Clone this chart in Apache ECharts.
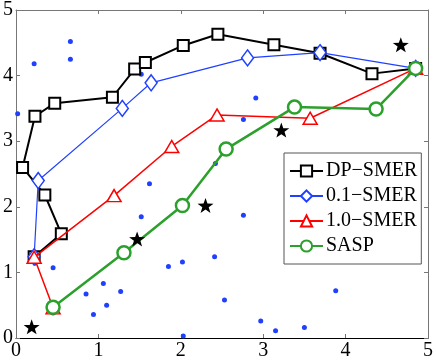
<!DOCTYPE html>
<html>
<head>
<meta charset="utf-8">
<script src="https://cdn.jsdelivr.net/npm/echarts@6/dist/echarts.min.js"></script>
<style>
  html, body { margin: 0; padding: 0; background: #fff; }
  #myChart { width: 436px; height: 362px; }
</style>
</head>
<body>
<div id="myChart"></div>
<script>
// paths from start to goal
var dpX = [0.22, 0.55, 0.35, 0.08, 0.23, 0.47, 1.17, 1.44, 1.57, 2.03, 2.45, 3.13, 3.69, 4.32, 4.85];
var dpY = [1.24, 1.59, 2.18, 2.60, 3.38, 3.58, 3.67, 4.10, 4.20, 4.46, 4.63, 4.47, 4.34, 4.03, 4.11];
var smer01X = [0.22, 0.27, 1.29, 1.64, 2.81, 3.69, 4.85];
var smer01Y = [1.24, 2.40, 3.50, 3.89, 4.27, 4.35, 4.11];
var smer10X = [0.45, 0.22, 1.19, 1.89, 2.44, 3.57, 4.85];
var smer10Y = [0.46, 1.23, 2.17, 2.92, 3.40, 3.35, 4.11];
var saspX = [0.45, 1.31, 2.02, 2.55, 3.38, 4.37, 4.85];
var saspY = [0.47, 1.30, 2.02, 2.88, 3.52, 3.49, 4.11];
// black stars
var starX = [0.19, 1.47, 2.30, 3.22, 4.67];
var starY = [0.17, 1.51, 2.02, 3.17, 4.47];
// blue dots
var dotX = [0.02, 0.22, 0.66, 0.66, 1.52, 2.42, 2.91, 2.76, 0.45, 0.23, 1.62, 1.52, 0.85, 1.06,
            1.27, 1.10, 0.94, 0.45, 1.85, 2.02, 2.41, 2.03, 2.76, 2.53, 2.97, 3.15, 3.50, 3.88];
var dotY = [3.42, 4.18, 4.52, 4.25, 4.02, 2.66, 3.66, 3.33, 1.07, 1.14, 2.35, 1.85, 0.67, 0.83,
            0.71, 0.50, 0.36, 0.38, 1.09, 1.16, 1.24, 0.03, 1.87, 0.58, 0.26, 0.11, 0.16, 0.72];
var legendNames = ['DP\u2212SMER', '0.1\u2212SMER', '1.0\u2212SMER', 'SASP'];

function zip(xs, ys) {
    var out = [];
    for (var i = 0; i < xs.length; i++) {
        out.push([xs[i], ys[i]]);
    }
    return out;
}

var font = '"Liberation Serif", "Times New Roman", serif';
var starPath = 'path://M0,-10 L2.35,-3.24 L9.51,-3.09 L3.8,1.24 L5.88,8.09 L0,4 L-5.88,8.09 L-3.8,1.24 L-9.51,-3.09 L-2.35,-3.24 Z';

function valueAxis(pos, showLabel, lineColor) {
    return {
        type: 'value',
        position: pos,
        min: 0,
        max: 5,
        interval: 1,
        axisLine: { show: true, onZero: false, lineStyle: { color: lineColor, width: 1 } },
        axisTick: { show: true, inside: true, length: 4, lineStyle: { color: '#777' } },
        axisLabel: { show: showLabel, color: '#000', fontFamily: font, fontSize: 20, margin: 3 },
        splitLine: { show: false }
    };
}

var myChart = echarts.init(document.getElementById('myChart'));
var option = {
    animation: false,
    backgroundColor: '#fff',
    grid: { left: 14, right: 5, top: 7, bottom: 24 },
    xAxis: [valueAxis('bottom', true, '#000'), valueAxis('top', false, '#777')],
    yAxis: [valueAxis('left', true, '#777'), valueAxis('right', false, '#777')],
    legend: {
        data: legendNames,
        orient: 'vertical',
        left: 284,
        top: 153,
        width: 143,
        padding: [8, 4, 8, 5],
        itemGap: 5,
        itemWidth: 33,
        itemHeight: 14,
        backgroundColor: '#fff',
        borderColor: '#555',
        borderWidth: 1,
        borderRadius: 0,
        textStyle: { fontFamily: font, fontSize: 20, color: '#000', padding: [0, 0, 0, -2] }
    },
    series: [
        {
            name: 'dots',
            type: 'scatter',
            data: zip(dotX, dotY),
            symbol: 'circle',
            symbolSize: 5,
            itemStyle: { color: '#2040ff', opacity: 1 },
            z: 1
        },
        {
            name: legendNames[0],
            type: 'line',
            data: zip(dpX, dpY),
            symbol: 'rect',
            symbolSize: 11,
            showAllSymbol: true,
            lineStyle: { color: '#000', width: 2 },
            itemStyle: { color: '#fff', borderColor: '#000', borderWidth: 2 },
            z: 2
        },
        {
            name: legendNames[1],
            type: 'line',
            data: zip(smer01X, smer01Y),
            symbol: 'diamond',
            symbolSize: [12, 16],
            showAllSymbol: true,
            lineStyle: { color: '#2040ff', width: 1.2 },
            itemStyle: { color: '#fff', borderColor: '#2040ff', borderWidth: 1.5 },
            z: 3
        },
        {
            name: legendNames[2],
            type: 'line',
            data: zip(smer10X, smer10Y),
            symbol: 'triangle',
            symbolSize: [14, 12],
            showAllSymbol: true,
            lineStyle: { color: '#ff0000', width: 1.5 },
            itemStyle: { color: '#fff', borderColor: '#ff0000', borderWidth: 1.5 },
            z: 4
        },
        {
            name: legendNames[3],
            type: 'line',
            data: zip(saspX, saspY),
            symbol: 'circle',
            symbolSize: 13,
            showAllSymbol: true,
            lineStyle: { color: '#2ca02c', width: 2.5 },
            itemStyle: { color: '#fff', borderColor: '#2ca02c', borderWidth: 2.5 },
            z: 5
        },
        {
            name: 'stars',
            type: 'scatter',
            data: zip(starX, starY),
            symbol: starPath,
            symbolSize: [16, 15],
            itemStyle: { color: '#000', opacity: 1 },
            z: 6
        }
    ]
};
myChart.setOption(option);
</script>
</body>
</html>
